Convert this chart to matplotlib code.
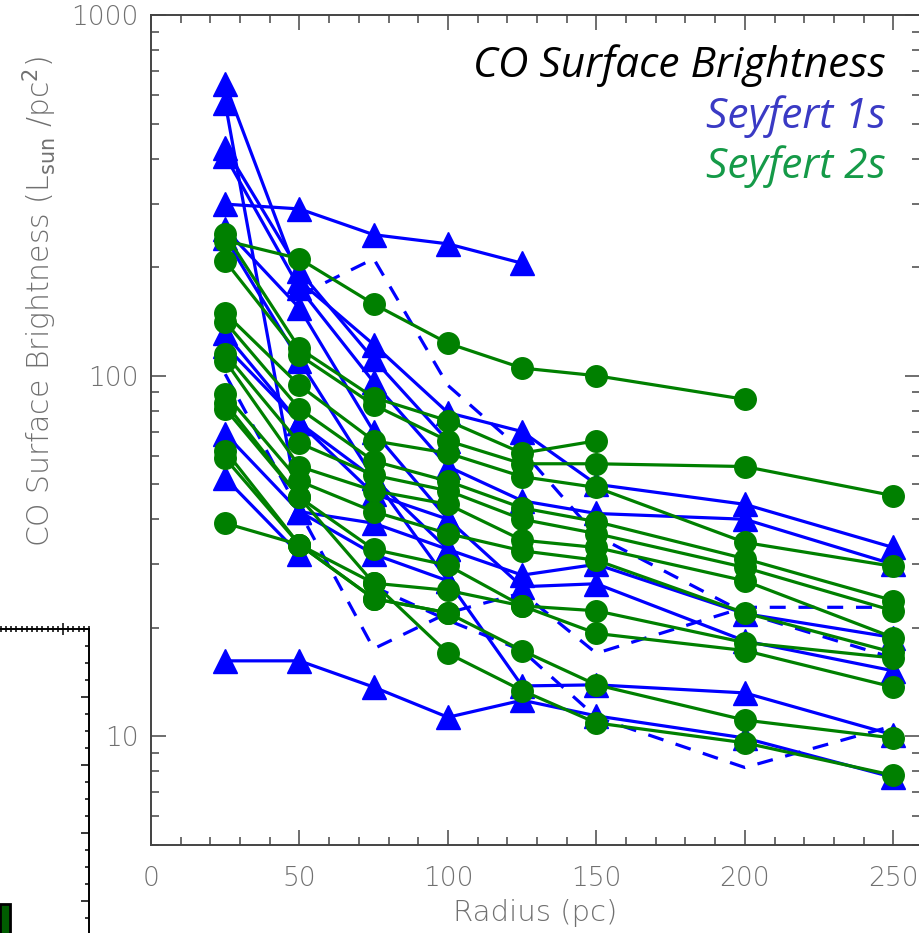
import numpy as np
import matplotlib
matplotlib.use("Agg")
import matplotlib.pyplot as plt
from matplotlib.ticker import MultipleLocator, LogLocator, NullFormatter, FixedFormatter, FixedLocator

nan = np.nan

# Radii of the annuli (pc)
radius = [25, 50, 75, 100, 125, 150, 200, 250]

# Seyfert 1 profiles, L_sun / pc^2 (solid lines)
s1_01 = [299, 290, 246, 232, 205, nan, nan, nan]
s1_02 = [644, 183, 122, 79, 70, 50, 44, 33.4]
s1_03 = [570, 42, 39, 33, 28, 30, 21.9, 18.8]
s1_04 = [428, 195, 111, 66, nan, nan, nan, nan]
s1_05 = [407, 175, 96, 56, 45, 41.5, 40, 30]
s1_06 = [255, 154, 70, 40, 26, 26.5, 18.4, 15.2]
s1_07 = [241, 110, 52, 27, 13.8, 13.9, 13.2, 10.1]
s1_08 = [131, 74, 47, 40, nan, nan, nan, nan]
s1_09 = [121, 74, 52, 33, nan, nan, nan, nan]
s1_10 = [69, 42, 32, 27, nan, nan, nan, nan]
s1_11 = [52, 32, nan, nan, nan, nan, nan, nan]
s1_12 = [16.2, 16.2, 13.7, 11.3, 12.6, 11.4, 9.9, 7.7]

# Seyfert 1 profiles drawn dashed (no symbols)
s1_d1 = [nan, 167, 211, 94, 62, 36, 22, 16.5]
s1_d2 = [101, 42, 17.5, 22, 25, 17, 22.8, 22.8]
s1_d3 = [nan, nan, 26, 21, 17.3, 11.3, 8.2, 10.7]

# Seyfert 2 profiles, L_sun / pc^2
s2_01 = [237, 211, 158, 123, 105, 100, 86, nan]
s2_02 = [247, 119, 87, 75, 61, 66, nan, nan]
s2_03 = [208, 114, 83, 66, 57, 57, 56, 46.5]
s2_04 = [149, 94, 66, 61, 52.5, 49, 34.5, 29.6]
s2_05 = [141, 81, 58, 51, 43, 39.4, 31.1, 23.8]
s2_06 = [115, 65, 53, 48, 40, 36.5, 29.4, 22.3]
s2_07 = [110, 56, 48, 44, 35, 33.4, 27.0, 18.8]
s2_08 = [89, 51, 42, 36.5, 32.7, 30.8, 22.0, 17.1]
s2_09 = [84, 46, 33, 29.8, 23, 22.3, 18.2, 16.5]
s2_10 = [81, 46, 26.6, 25.4, 23, 19.3, 17.3, 13.7]
s2_11 = [62, 34, 24.1, 22.0, 17.3, 13.9, 11.1, 9.9]
s2_12 = [59, 34, 26.6, 17.0, 13.4, 10.9, 9.6, 7.8]
s2_13 = [39, 34, 24.1, 22.0, nan, nan, nan, nan]

sy1_solid = [s1_01, s1_02, s1_03, s1_04, s1_05, s1_06, s1_07, s1_08,
             s1_09, s1_10, s1_11, s1_12]
sy1_dashed = [s1_d1, s1_d2, s1_d3]
sy2 = [s2_01, s2_02, s2_03, s2_04, s2_05, s2_06, s2_07, s2_08, s2_09,
       s2_10, s2_11, s2_12, s2_13]

x_ticks = [0, 50, 100, 150, 200, 250]
y_ticks = [10, 100, 1000]
y_tick_labels = ["10", "100", "1000"]

# neighbouring panel (only its corner is in view)
side_bar_x = [88.8]
side_bar_h = [11.8]

BLUE = "#0000ff"
GREEN = "#008000"
TICK_GREY = "#707070"

W, H = 919, 933
fig = plt.figure(figsize=(W / 100, H / 100), dpi=100)

plt.rcParams["font.family"] = ["DejaVu Sans"]

# ---------------- main panel ----------------
x0, x1, y0, y1 = 151, 920, 15, 845
ax = fig.add_axes([x0 / W, 1 - y1 / H, (x1 - x0) / W, (y1 - y0) / H])
ax.set_yscale("log")
ax.set_xlim(0, 259)
ax.set_ylim(5, 1000)

r = np.array(radius, dtype=float)

for prof in sy1_dashed:
    v = np.array(prof, dtype=float)
    m = ~np.isnan(v)
    ax.plot(r[m], v[m], color=BLUE, lw=2.3, ls=(0, (5, 4)), zorder=2)

for prof in sy1_solid:
    v = np.array(prof, dtype=float)
    m = ~np.isnan(v)
    ax.plot(r[m], v[m], color=BLUE, lw=2.3, marker="^", ms=17,
            mec=BLUE, mfc=BLUE, zorder=3)

for prof in sy2:
    v = np.array(prof, dtype=float)
    m = ~np.isnan(v)
    ax.plot(r[m], v[m], color=GREEN, lw=2.3, marker="o", ms=15.5,
            mec=GREEN, mfc=GREEN, zorder=4)

ax.xaxis.set_major_locator(FixedLocator(x_ticks))
ax.xaxis.set_minor_locator(MultipleLocator(10))
ax.yaxis.set_major_locator(FixedLocator(y_ticks))
ax.yaxis.set_major_formatter(FixedFormatter(y_tick_labels))
ax.yaxis.set_minor_locator(LogLocator(base=10, subs=np.arange(2, 10)))
ax.yaxis.set_minor_formatter(NullFormatter())

ax.tick_params(which="both", direction="in", top=True, right=True,
               color="#555555", width=1.2)
ax.tick_params(which="major", length=11)
ax.tick_params(which="minor", length=5.5)
ax.tick_params(axis="x", which="major", pad=15, labelsize=19,
               labelcolor=TICK_GREY)
ax.tick_params(axis="y", which="major", pad=9, labelsize=19,
               labelcolor=TICK_GREY)
for lab in ax.get_xticklabels() + ax.get_yticklabels():
    lab.set_fontweight("light")
for sp in ax.spines.values():
    sp.set_color("#444444")
    sp.set_linewidth(1.4)

fig.text(535 / W, 1 - 913 / H, "Radius (pc)", ha="center", va="center",
         fontsize=21, color=TICK_GREY, fontweight="light")
fig.text(40 / W, 1 - 302 / H,
         r"CO Surface Brightness (L$_{\rm sun}$ /pc$^2$)",
         rotation=90, ha="center", va="center", fontsize=21.5,
         color=TICK_GREY, fontweight="light")

# key in the upper right
key = [("CO Surface Brightness", "black", 77),
       ("Seyfert 1s", "#3a3ac4", 128),
       ("Seyfert 2s", "#159a48", 178)]
for txt, col, yb in key:
    fig.text(886 / W, 1 - yb / H, txt, ha="right", va="baseline",
             fontsize=30.5, style="italic", color=col,
             family=["Open Sans", "DejaVu Sans"])

# ---------------- neighbouring panel corner ----------------
sx1, sy_top = 89, 629
sax = fig.add_axes([(sx1 - 389) / W, 1 - (sy_top + 511) / H, 389 / W, 511 / H])
sax.set_xlim(30, 105)
sax.set_ylim(-2.06, 28)
sax.bar(side_bar_x, side_bar_h, width=1.93, bottom=0, color="#005c00",
        edgecolor="black", linewidth=2, align="center")
sax.xaxis.set_major_locator(MultipleLocator(20))
sax.xaxis.set_minor_locator(MultipleLocator(1))
sax.yaxis.set_major_locator(MultipleLocator(4))
sax.yaxis.set_minor_locator(MultipleLocator(1))
sax.tick_params(which="both", top=True, right=True,
                bottom=False, left=False, labelbottom=False,
                labelleft=False, labeltop=False, labelright=False,
                color="black", width=1.1)
sax.tick_params(axis="x", which="both", direction="inout")
sax.tick_params(axis="y", which="both", direction="in")
sax.tick_params(axis="x", which="major", length=9)
sax.tick_params(axis="x", which="minor", length=5)
sax.tick_params(axis="y", which="major", length=6)
sax.tick_params(axis="y", which="minor", length=3)
for sp in sax.spines.values():
    sp.set_color("black")
    sp.set_linewidth(1.4)

fig.savefig("out.png", dpi=100)
